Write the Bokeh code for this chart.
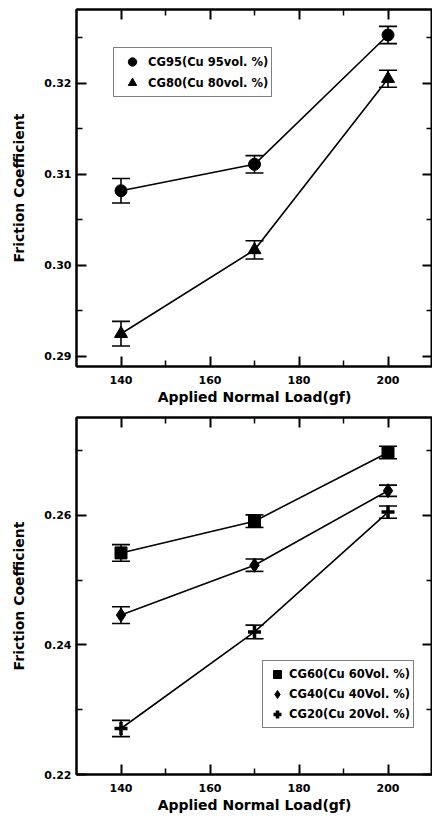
from bokeh.plotting import figure
from bokeh.layouts import column
from bokeh.models import (ColumnDataSource, Whisker, TeeHead, LinearAxis, Range1d,
                          Legend, LegendItem, NumeralTickFormatter, FixedTicker,
                          CustomLabelingPolicy)
from bokeh.embed import file_html
from bokeh.resources import INLINE

# ---- data ----
load = [140, 170, 200]

cg95 = [0.3082, 0.3111, 0.3253]
cg95_err = [0.00135, 0.00095, 0.00095]
cg80 = [0.2925, 0.3017, 0.3205]
cg80_err = [0.00135, 0.0010, 0.00093]

cg60 = [0.2542, 0.2591, 0.2697]
cg60_err = [0.00128, 0.00097, 0.00097]
cg40 = [0.2446, 0.2523, 0.2638]
cg40_err = [0.0013, 0.00095, 0.00087]
cg20 = [0.2271, 0.2420, 0.2605]
cg20_err = [0.00126, 0.00105, 0.00095]

top_labels = ["CG95(Cu 95vol. %)", "CG80(Cu 80vol. %)"]
bot_labels = ["CG60(Cu 60Vol. %)", "CG40(Cu 40Vol. %)", "CG20(Cu 20Vol. %)"]

x_major = [140, 160, 180, 200]
x_minor = [150, 170, 190]
top_y_major = [0.29, 0.30, 0.31, 0.32]
top_y_minor = [0.295, 0.305, 0.315, 0.325]
bot_y_major = [0.22, 0.24, 0.26]
bot_y_minor = [0.23, 0.25, 0.27]

FONT = "DejaVu Sans"


def style_axis(ax, labels=True, size_major=10, size_minor=6):
    ax.axis_line_width = 2
    ax.axis_line_color = "black"
    ax.major_tick_in = size_major
    ax.major_tick_out = 0
    ax.minor_tick_in = size_minor
    ax.minor_tick_out = 0
    ax.major_tick_line_width = 2
    ax.minor_tick_line_width = 1.5
    ax.major_tick_line_color = "black"
    ax.minor_tick_line_color = "black"
    if labels:
        ax.major_label_text_font = FONT
        ax.major_label_text_font_style = "bold"
        ax.major_label_text_font_size = "11px"
        ax.major_label_text_color = "black"
        ax.axis_label_text_font = FONT
        ax.axis_label_text_font_style = "bold"
        ax.axis_label_text_font_size = "14px"
        ax.axis_label_text_color = "black"
    else:
        ax.major_label_policy = CustomLabelingPolicy(code="return []")
        ax.major_label_text_font_size = "0px"
        ax.major_label_standoff = 0
        ax.axis_label = None


def make_fig(y0, y1, height, b_top, b_bottom, y_major, y_minor):
    p = figure(width=432, height=height, x_range=Range1d(130, 210),
               y_range=Range1d(y0, y1), output_backend="svg",
               toolbar_location=None, min_border_left=76, min_border_right=0,
               min_border_top=b_top, min_border_bottom=b_bottom)
    p.xgrid.visible = False
    p.ygrid.visible = False
    p.outline_line_color = "black"
    p.outline_line_width = 2

    xt = FixedTicker(ticks=x_major, minor_ticks=x_minor)
    yt = FixedTicker(ticks=y_major, minor_ticks=y_minor)

    p.xaxis.ticker = xt
    p.yaxis.ticker = yt
    p.xaxis.axis_label = "Applied Normal Load(gf)"
    p.yaxis.axis_label = "Friction Coefficient"
    p.yaxis.formatter = NumeralTickFormatter(format="0.00")
    style_axis(p.xaxis[0])
    style_axis(p.yaxis[0])
    p.xaxis.major_label_standoff = 9
    p.xaxis.axis_label_standoff = 2
    p.yaxis.major_label_standoff = 5
    p.yaxis.axis_label_standoff = 14

    top = LinearAxis(ticker=xt)
    style_axis(top, labels=False)
    p.add_layout(top, "above")
    right = LinearAxis(ticker=yt)
    style_axis(right, labels=False)
    p.add_layout(right, "right")
    return p


def add_series(p, ys, errs, marker, size, lw=0):
    lower = [y - e for y, e in zip(ys, errs)]
    upper = [y + e for y, e in zip(ys, errs)]
    src = ColumnDataSource(dict(x=load, y=ys, lower=lower, upper=upper))
    p.line("x", "y", source=src, line_color="black", line_width=1.6)
    w = Whisker(base="x", lower="lower", upper="upper", source=src,
                dimension="height", line_color="black", line_width=1.6,
                upper_head=TeeHead(size=18, line_color="black", line_width=1.6),
                lower_head=TeeHead(size=18, line_color="black", line_width=1.6))
    p.add_layout(w)
    if marker == "cross":
        r = p.scatter("x", "y", source=src, marker=marker, size=size,
                      line_color="black", line_width=lw)
    else:
        r = p.scatter("x", "y", source=src, marker=marker, size=size,
                      fill_color="black", line_color="black")
    return r


def make_legend(items, loc, gw, gh, padding):
    lg = Legend(items=items, location=loc, margin=0,
                border_line_color="black", border_line_width=1.5,
                background_fill_color="white", background_fill_alpha=1,
                label_text_font=FONT, label_text_font_style="bold",
                label_text_font_size="11.5px", label_text_color="black",
                glyph_width=gw, glyph_height=gh, spacing=0,
                padding=padding, label_standoff=1, label_height=16)
    return lg


# ---- top panel ----
p1 = make_fig(0.2889, 0.3281, 410, 9, 44, top_y_major, top_y_minor)
r95 = add_series(p1, cg95, cg95_err, "circle", 12)
r80 = add_series(p1, cg80, cg80_err, "triangle", 13)
lg1 = make_legend([LegendItem(label=top_labels[0], renderers=[r95]),
                   LegendItem(label=top_labels[1], renderers=[r80])],
                  (37, 269), 30, 21, 3)
p1.add_layout(lg1)

# ---- bottom panel ----
p2 = make_fig(0.22, 0.2751, 409, 7, 45, bot_y_major, bot_y_minor)
r60 = add_series(p2, cg60, cg60_err, "square", 12)
r40 = add_series(p2, cg40, cg40_err, "diamond", 14)
r20 = add_series(p2, cg20, cg20_err, "cross", 13, lw=3.5)
lg2 = make_legend([LegendItem(label=bot_labels[0], renderers=[r60]),
                   LegendItem(label=bot_labels[1], renderers=[r40]),
                   LegendItem(label=bot_labels[2], renderers=[r20])],
                  (186, 46), 22, 20, 3)
p2.add_layout(lg2)

layout = column(p1, p2, spacing=0)
open("out.html", "w").write(file_html(layout, INLINE))
